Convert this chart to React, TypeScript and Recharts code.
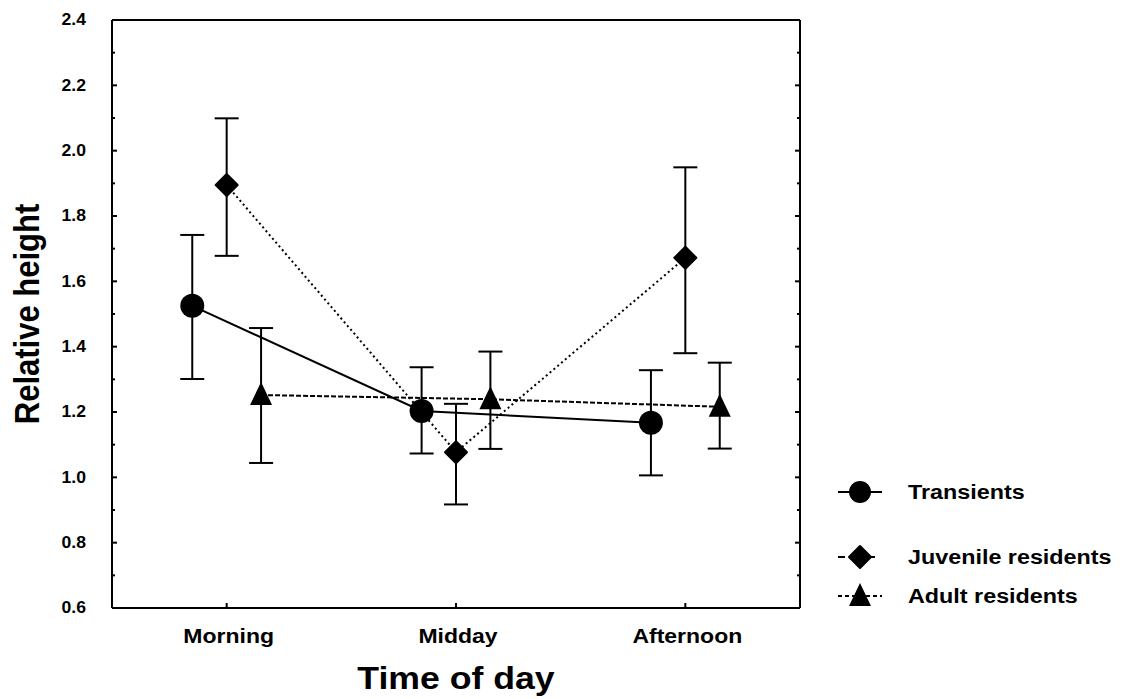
import React from 'react';
import { ComposedChart, Line, XAxis, YAxis, ErrorBar, Legend } from 'recharts';

// ---- data ----
const categories = ['Morning', 'Midday', 'Afternoon'];
const categoryPositions = [1, 2, 3];

const transientsMean = [1.525, 1.203, 1.167];
const transientsUpper = [1.742, 1.337, 1.328];
const transientsLower = [1.301, 1.073, 1.006];

const juvenileMean = [1.895, 1.077, 1.672];
const juvenileUpper = [2.099, 1.225, 1.949];
const juvenileLower = [1.678, 0.917, 1.38];

const adultMean = [1.252, 1.239, 1.216];
const adultUpper = [1.457, 1.385, 1.351];
const adultLower = [1.044, 1.087, 1.088];

const seriesNames = ['Transients', 'Juvenile residents', 'Adult residents'];
const seriesOffsets = [-0.15, 0, 0.15];

const yTicks = [0.6, 0.7, 0.8, 0.9, 1.0, 1.1, 1.2, 1.3, 1.4, 1.5, 1.6, 1.7, 1.8, 1.9, 2.0, 2.1, 2.2, 2.3, 2.4];
const yDomain = [0.6, 2.4];
const xDomain = [0.5, 3.5];

const xTitle = 'Time of day';
const yTitle = 'Relative height';

// ---- helpers ----
const FONT = '"Liberation Sans", Arial, Helvetica, sans-serif';
const STRETCH = 1.15;

function buildSeries(mean: number[], upper: number[], lower: number[], offset: number) {
  return categoryPositions.map((p, i) => ({
    x: p + offset,
    y: mean[i],
    err: [mean[i] - lower[i], upper[i] - mean[i]],
  }));
}

const transientsData = buildSeries(transientsMean, transientsUpper, transientsLower, seriesOffsets[0]);
const juvenileData = buildSeries(juvenileMean, juvenileUpper, juvenileLower, seriesOffsets[1]);
const adultData = buildSeries(adultMean, adultUpper, adultLower, seriesOffsets[2]);

const SText = (props: any) => {
  const { x, y, size, anchor, children, sx, rotate } = props;
  const tr = rotate
    ? `translate(${x} ${y}) rotate(${rotate}) scale(1 ${sx ?? STRETCH})`
    : `translate(${x} ${y}) scale(${sx ?? STRETCH} 1)`;
  return (
    <text
      transform={tr}
      x={0}
      y={0}
      textAnchor={anchor || 'start'}
      dominantBaseline="central"
      fontFamily={FONT}
      fontWeight="bold"
      fontSize={size}
      fill="#000"
    >
      {children}
    </text>
  );
};

const CircleDot = (props: any) => {
  const { cx, cy, index } = props;
  if (cx == null || cy == null) return <g key={`c${index}`} />;
  return <circle key={`c${index}`} cx={cx} cy={cy} r={12} fill="#000" />;
};
const DiamondDot = (props: any) => {
  const { cx, cy, index } = props;
  if (cx == null || cy == null) return <g key={`d${index}`} />;
  const s = 11;
  return (
    <polygon
      key={`d${index}`}
      points={`${cx},${cy - s} ${cx + s},${cy} ${cx},${cy + s} ${cx - s},${cy}`}
      fill="#000"
      stroke="#000"
      strokeWidth={2}
      strokeLinejoin="round"
    />
  );
};
const TriangleDot = (props: any) => {
  const { cx, cy, index } = props;
  if (cx == null || cy == null) return <g key={`t${index}`} />;
  return (
    <polygon
      key={`t${index}`}
      points={`${cx},${cy - 13} ${cx + 11},${cy + 10} ${cx - 11},${cy + 10}`}
      fill="#000"
    />
  );
};

const LeftTick = (props: any) => {
  const { x, y, payload } = props;
  const v = payload.value as number;
  const major = Math.round(v * 10) % 2 === 0;
  return (
    <g>
      <line x1={x} y1={y} x2={x + (major ? 5 : 3)} y2={y} stroke="#000" strokeWidth={2} />
      {major && (
        <SText x={x - 26} y={y} size={16} anchor="end" sx={1.1}>
          {v.toFixed(1)}
        </SText>
      )}
    </g>
  );
};
const RightTick = (props: any) => {
  const { x, y, payload } = props;
  const v = payload.value as number;
  const major = Math.round(v * 10) % 2 === 0;
  return <line x1={x} y1={y} x2={x - (major ? 5 : 3)} y2={y} stroke="#000" strokeWidth={2} />;
};
const BottomTick = (props: any) => {
  const { x, y, payload } = props;
  const idx = categoryPositions.indexOf(payload.value);
  return (
    <g>
      <line x1={x} y1={y} x2={x} y2={y - 5} stroke="#000" strokeWidth={2} />
      <SText x={x + 2} y={y + 28} size={20} anchor="middle">
        {categories[idx]}
      </SText>
    </g>
  );
};
const TopTick = (props: any) => {
  const { x, y } = props;
  return <line x1={x} y1={y} x2={x} y2={y + 5} stroke="#000" strokeWidth={2} />;
};

const LegendContent = () => {
  const rows = [
    { y: 24, dash: undefined as string | undefined, marker: 'circle' },
    { y: 89, dash: '7 8', marker: 'diamond' },
    { y: 128, dash: '4 3', marker: 'triangle' },
  ];
  return (
    <svg width={300} height={150} style={{ overflow: 'visible' }}>
      {rows.map((r, i) => {
        const cx = 30;
        return (
          <g key={i}>
            <line x1={8} y1={r.y} x2={52} y2={r.y} stroke="#000" strokeWidth={2} strokeDasharray={r.dash} />
            {r.marker === 'circle' && <circle cx={cx} cy={r.y} r={11} fill="#000" />}
            {r.marker === 'diamond' && (
              <polygon points={`${cx},${r.y - 11} ${cx + 11},${r.y} ${cx},${r.y + 11} ${cx - 11},${r.y}`} fill="#000" stroke="#000" strokeWidth={2} strokeLinejoin="round" />
            )}
            {r.marker === 'triangle' && (
              <polygon points={`${cx},${r.y - 13} ${cx + 11},${r.y + 10} ${cx - 11},${r.y + 10}`} fill="#000" />
            )}
            <SText x={78} y={r.y} size={20.3}>
              {seriesNames[i]}
            </SText>
          </g>
        );
      })}
    </svg>
  );
};

export default function App() {
  return (
    <div style={{ position: 'absolute', left: 0, top: 0 }}>
      <ComposedChart width={1131} height={699} margin={{ top: 19, right: 330, bottom: 11, left: 12 }}>
        <XAxis
          xAxisId={0}
          dataKey="x"
          type="number"
          domain={xDomain}
          ticks={categoryPositions}
          interval={0}
          allowDataOverflow
          tickSize={0}
          tickMargin={0}
          tickLine={false}
          tick={<BottomTick />}
          axisLine={{ stroke: '#000', strokeWidth: 2 }}
          height={80}
          label={{
            content: (p: any) => {
              const vb = p.viewBox || { x: 112, y: 608, width: 688, height: 80 };
              return (
                <SText x={vb.x + vb.width / 2} y={vb.y + 70} size={31} anchor="middle">
                  {xTitle}
                </SText>
              );
            },
          }}
        />
        <XAxis
          xAxisId="top"
          orientation="top"
          type="number"
          domain={xDomain}
          ticks={categoryPositions}
          interval={0}
          allowDataOverflow
          tickSize={0}
          tickMargin={0}
          tickLine={false}
          tick={<TopTick />}
          axisLine={{ stroke: '#000', strokeWidth: 2 }}
          height={1}
        />
        <YAxis
          yAxisId={0}
          type="number"
          domain={yDomain}
          ticks={yTicks}
          interval={0}
          allowDataOverflow
          tickSize={0}
          tickMargin={0}
          tickLine={false}
          tick={<LeftTick />}
          axisLine={{ stroke: '#000', strokeWidth: 2 }}
          width={100}
          label={{
            content: (p: any) => {
              const vb = p.viewBox || { x: 12, y: 20, width: 100, height: 588 };
              return (
                <SText x={vb.x + 15} y={vb.y + vb.height / 2} size={31} anchor="middle" rotate={-90}>
                  {yTitle}
                </SText>
              );
            },
          }}
        />
        <YAxis
          yAxisId="right"
          orientation="right"
          type="number"
          domain={yDomain}
          ticks={yTicks}
          interval={0}
          allowDataOverflow
          tickSize={0}
          tickMargin={0}
          tickLine={false}
          tick={<RightTick />}
          axisLine={{ stroke: '#000', strokeWidth: 2 }}
          width={1}
        />
        <Legend
          layout="horizontal"
          verticalAlign="middle"
          align="center"
          content={<LegendContent />}
          wrapperStyle={{ position: 'absolute', left: 830, top: 468, width: 300, height: 150 }}
        />
        <Line
          name={seriesNames[0]}
          data={transientsData}
          dataKey="y"
          type="linear"
          stroke="#000"
          strokeWidth={2}
          dot={CircleDot}
          activeDot={false}
          isAnimationActive={false}
          legendType="none"
        >
          <ErrorBar dataKey="err" direction="y" width={12} stroke="#000" strokeWidth={2} isAnimationActive={false} />
        </Line>
        <Line
          name={seriesNames[1]}
          data={juvenileData}
          dataKey="y"
          type="linear"
          stroke="#000"
          strokeWidth={2}
          strokeDasharray="2 3"
          dot={DiamondDot}
          activeDot={false}
          isAnimationActive={false}
          legendType="none"
        >
          <ErrorBar dataKey="err" direction="y" width={12} stroke="#000" strokeWidth={2} isAnimationActive={false} />
        </Line>
        <Line
          name={seriesNames[2]}
          data={adultData}
          dataKey="y"
          type="linear"
          stroke="#000"
          strokeWidth={2}
          strokeDasharray="5 2"
          dot={TriangleDot}
          activeDot={false}
          isAnimationActive={false}
          legendType="none"
        >
          <ErrorBar dataKey="err" direction="y" width={12} stroke="#000" strokeWidth={2} isAnimationActive={false} />
        </Line>
      </ComposedChart>
    </div>
  );
}
